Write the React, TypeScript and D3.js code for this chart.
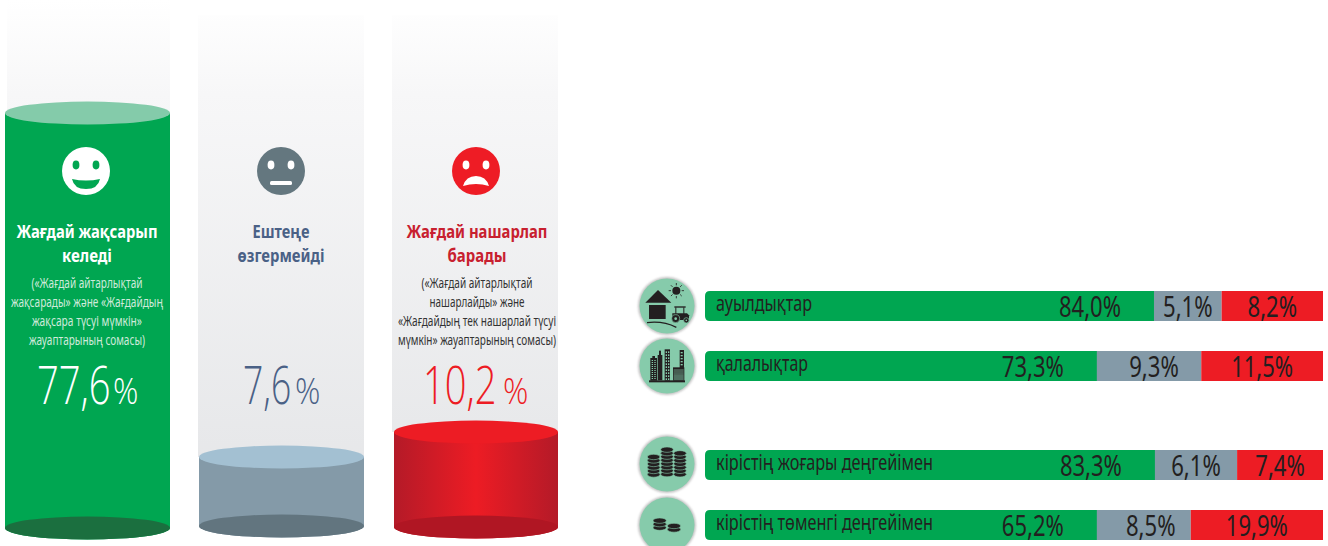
import React from "react";
import * as d3 from "d3";

// ---------- data ----------
const columnKeys = ["better", "same", "worse"];
const columnValues = [77.6, 7.6, 10.2];
const columnValueLabels = ["77,6", "7,6", "10,2"];
const columnTitles = [["Жағдай жақсарып", "келеді"], ["Ештеңе", "өзгермейді"], ["Жағдай нашарлап", "барады"]];
const columnNotes = [
  ["(«Жағдай айтарлықтай", "жақсарады» және «Жағдайдың", "жақсара түсуі мүмкін»", "жауаптарының сомасы)"],
  [],
  ["(«Жағдай айтарлықтай", "нашарлайды» және", "«Жағдайдың тек нашарлай түсуі", "мүмкін» жауаптарының сомасы)"],
];
const rowLabels = ["ауылдықтар", "қалалықтар", "кірістің жоғары деңгейімен", "кірістің төменгі деңгейімен"];
const greenValues = [84.0, 73.3, 83.3, 65.2];
const grayValues = [5.1, 9.3, 6.1, 8.5];
const redValues = [8.2, 11.5, 7.4, 19.9];
// The printed numbers are not proportional to the painted lengths in the source,
// so the painted share of the track (%) is read from the picture separately.
const paintedGreen = [72.65, 63.4, 72.8, 63.4];
const paintedGray = [10.95, 16.9, 13.3, 15.2];
const paintedRed = [16.4, 19.7, 13.9, 21.4];

// ---------- layout ----------
const W = 1328, H = 546;
const GREEN = "#00a651", GRAY = "#849aa8", RED = "#ed1c24", INK = "#231f20", MINT = "#86cbab";
const font = "'Noto Sans', sans-serif";
const lightFont = "'Open Sans', sans-serif";

const colLayout = [
  { x0: 5, x1: 170, glassX0: 7, glassTop: 0, base: 528, top: "#84cbaa", body: GREEN, bottom: "#1b6f3f", titleC: "#ffffff", noteC: "#cfeadb", valC: "#ffffff", faceC: "#ffffff", faceX: 86,
    titleW: [141, 50], noteW: [111, 152, 110, 116], noteX: 87, titleX: 87, valX: 37, valSX: 0.72, pctX: 113 },
  { x0: 199, x1: 364, glassX0: 198, glassTop: 15, base: 526, top: "#a3c0d2", body: GRAY, bottom: "#62757f", titleC: "#4a6186", noteC: "#333", valC: "#4a6186", faceC: "#64777f", faceX: 281,
    titleW: [57, 87], noteW: [], noteX: 281, titleX: 281, valX: 243, valSX: 0.67, pctX: 295 },
  { x0: 394, x1: 558, glassX0: 392, glassTop: 15, base: 527, top: "#ed1c24", body: "url(#redBody)", bottom: "#b01623", titleC: "#c8202f", noteC: "#333333", valC: "#ed1c24", faceC: "#ee1c25", faceX: 476,
    titleW: [141, 59], noteW: [111, 95, 158, 158], noteX: 477, titleX: 477, valX: 423, valSX: 0.72, pctX: 503 },
];
const RY = 11.5;
// piecewise level scale: the source's cylinders are not linear in the value
const levelScale = d3.scaleLinear().domain([0, 7.6, 10.2, 77.6]).range([0, 69, 95, 415]);

const trackX = d3.scaleLinear().domain([0, 100]).range([705, 1323]);
const rowTops = [291, 351, 450, 510];
const rowIconY = [306, 366, 464, 525];
const rowBase = [317, 377, 476, 536];
const rowTextBase = [311, 371, 470, 530];
const rowTextW = [96, 92, 217, 217];
const grayNudge = [0, 5, 0, 7];
const BAR_H = 30;

function Face({ kind, cx, color }: { kind: string; cx: number; color: string }) {
  const cy = 171, r = 24;
  const hole = kind === "better" ? GREEN : "#ffffff";
  let mouth: React.ReactNode;
  if (kind === "better") mouth = <path d={`M${cx - 14},${cy + 8} Q${cx},${cy + 11} ${cx + 14},${cy + 8} Q${cx + 12},${cy + 18} ${cx},${cy + 18} Q${cx - 12},${cy + 18} ${cx - 14},${cy + 8}Z`} fill={hole} />;
  else if (kind === "same") mouth = <rect x={cx - 11} y={cy + 10} width={22} height={4} rx={1.5} fill={hole} />;
  else mouth = <path d={`M${cx - 13},${cy + 15} Q${cx - 10},${cy + 5} ${cx},${cy + 5} Q${cx + 10},${cy + 5} ${cx + 13},${cy + 15} Q${cx},${cy + 11} ${cx - 13},${cy + 15}Z`} fill={hole} />;
  return (
    <g>
      <circle cx={cx} cy={cy} r={r} fill={color} />
      <ellipse cx={cx - 10} cy={cy - 6} rx={3.4} ry={4.4} fill={hole} />
      <ellipse cx={cx + 10} cy={cy - 6} rx={3.4} ry={4.4} fill={hole} />
      {mouth}
    </g>
  );
}

function Column({ i }: { i: number }) {
  const c = colLayout[i];
  const h = levelScale(columnValues[i]);
  const cx = (c.x0 + c.x1) / 2, rx = (c.x1 - c.x0) / 2;
  const topY = c.base - h;
  return (
    <g>
      <rect x={c.glassX0} y={c.glassTop} width={c.x1 - c.glassX0} height={topY - c.glassTop} fill="url(#glass)" />
      <path d={`M${c.x0},${topY} L${c.x0},${c.base} A${rx},${RY} 0 0 0 ${c.x1},${c.base} L${c.x1},${topY}Z`} fill={c.body} />
      <ellipse cx={cx} cy={c.base} rx={rx} ry={RY} fill={c.bottom} />
      <ellipse cx={cx} cy={topY} rx={rx} ry={RY} fill={c.top} />
      <Face kind={columnKeys[i]} cx={c.faceX} color={c.faceC} />
      {columnTitles[i].map((t, k) => (
        <text key={k} x={c.titleX} y={238 + k * 24} textAnchor="middle" fontFamily={font} fontWeight={700} fontSize={18.5} fill={c.titleC}
          textLength={c.titleW[k]} lengthAdjust="spacingAndGlyphs">{t}</text>
      ))}
      {columnNotes[i].map((t, k) => (
        <text key={k} x={c.noteX} y={288 + k * 19} textAnchor="middle" fontFamily={font} fontSize={14.5} fill={c.noteC}
          textLength={c.noteW[k]} lengthAdjust="spacingAndGlyphs">{t}</text>
      ))}
      <text transform={`translate(${c.valX},404) scale(${c.valSX},1)`} fontFamily={lightFont} fontWeight={300} fontSize={53} fill={c.valC}>
        {columnValueLabels[i]}
      </text>
      <text transform={`translate(${c.pctX},404) scale(0.85,1)`} fontFamily={lightFont} fontWeight={300} fontSize={37} fill={c.valC}>%</text>
    </g>
  );
}

function IconFarm() {
  const rays = d3.range(8).map((k) => (k * Math.PI) / 4);
  return (
    <g fill={INK} stroke="none">
      <path d="M47,98 L85,60 L125,98Z" />
      <rect x={58} y={105} width={50} height={42} />
      <path d="M52,158 Q100,152 140,172" fill="none" stroke={INK} strokeWidth={4} />
      <circle cx={140} cy={62} r={12} />
      {rays.map((a, k) => (
        <line key={k} x1={140 + 16 * Math.cos(a)} y1={62 + 16 * Math.sin(a)} x2={140 + 23 * Math.cos(a)} y2={62 + 23 * Math.sin(a)} stroke={INK} strokeWidth={2.5} />
      ))}
      <rect x={134} y={109} width={34} height={4} />
      <rect x={137} y={112} width={3} height={20} />
      <rect x={161} y={112} width={3} height={20} />
      <path d="M128,130 H172 L178,136 V150 H128Z" />
      <circle cx={138} cy={146} r={12} stroke={MINT} strokeWidth={2} />
      <circle cx={138} cy={146} r={4} fill={MINT} />
      <circle cx={170} cy={151} r={8} stroke={MINT} strokeWidth={2} />
      <circle cx={170} cy={151} r={2.5} fill={MINT} />
    </g>
  );
}

function IconCity() {
  const winRows = d3.range(0, 10);
  return (
    <g fill={INK}>
      <rect x={58} y={331} width={108} height={6} />
      <rect x={62} y={264} width={20} height={68} />
      <rect x={68} y={258} width={8} height={8} />
      <rect x={84} y={255} width={14} height={76} />
      <rect x={88} y={242} width={6} height={14} />
      <rect x={105} y={238} width={16} height={94} />
      <rect x={130} y={292} width={34} height={40} />
      <rect x={150} y={240} width={13} height={55} />
      {winRows.map((k) => (
        <g key={k}>
          <rect x={66} y={270 + k * 6} width={4} height={3} fill={MINT} />
          <rect x={74} y={270 + k * 6} width={4} height={3} fill={MINT} />
          <rect x={108} y={244 + k * 9} width={4} height={5} fill={MINT} />
          <rect x={115} y={244 + k * 9} width={4} height={5} fill={MINT} />
          <rect x={132} y={299 + k * 3.2} width={30} height={1.4} fill={MINT} />
        </g>
      ))}
      {d3.range(0, 5).map((k) => (
        <rect key={k} x={153} y={246 + k * 9} width={6} height={4} fill={MINT} />
      ))}
    </g>
  );
}

function Coins({ stacks }: { stacks: { x: number; top: number; n: number; rx: number }[] }) {
  return (
    <g>
      {stacks.map((s, si) =>
        d3.range(s.n - 1, -1, -1).map((k) => (
          <ellipse key={si + "-" + k} cx={s.x} cy={s.top + k * 10.5} rx={s.rx} ry={8} fill={INK} stroke={MINT} strokeWidth={1.8} />
        ))
      )}
    </g>
  );
}

const iconOrigin = [[112, 108], [112, 288], [112, 103], [112, 285]];
function RowIcon({ i }: { i: number }) {
  const cy = rowIconY[i], cx = 667;
  const [ox, oy] = iconOrigin[i];
  return (
    <g>
      <circle cx={cx} cy={cy} r={29} fill="#8a8a8a" opacity={0.5} filter="url(#soft)" />
      <circle cx={cx} cy={cy} r={27.5} fill={MINT} />
      <g transform={`translate(${cx - ox / 3},${cy - oy / 3}) scale(${1 / 3})`}>
        {i === 0 && <IconFarm />}
        {i === 1 && <IconCity />}
        {i === 2 && <Coins stacks={[
          { x: 112, top: 60, n: 8, rx: 19 },
          { x: 72, top: 82, n: 6, rx: 19 },
          { x: 151, top: 71, n: 7, rx: 19 },
        ]} />}
        {i === 3 && <Coins stacks={[
          { x: 90, top: 272, n: 3, rx: 20 },
          { x: 133, top: 288, n: 2, rx: 20 },
        ]} />}
      </g>
    </g>
  );
}

function Row({ i }: { i: number }) {
  const y = rowTops[i];
  const x0 = trackX(0);
  const g1 = trackX(paintedGreen[i]);
  const g2 = trackX(paintedGreen[i] + paintedGray[i]);
  const r2 = trackX(paintedGreen[i] + paintedGray[i] + paintedRed[i]);
  const fmt = (v: number) => d3.format(".1f")(v).replace(".", ",") + "%";
  const val = (s: string, xMid: number) => (
    <text x={xMid} y={rowBase[i]} textAnchor="middle" fontFamily={font} fontSize={29} fill={INK}
      textLength={s.length * 12.4} lengthAdjust="spacingAndGlyphs">{s}</text>
  );
  const s1 = fmt(greenValues[i]), s2 = fmt(grayValues[i]), s3 = fmt(redValues[i]);
  return (
    <g>
      <rect x={g1 - 1} y={y} width={g2 - g1 + 1} height={BAR_H} fill={GRAY} />
      <rect x={g2} y={y} width={r2 - g2} height={BAR_H} fill={RED} />
      <path d={`M${x0 + 5},${y} H${g1} V${y + BAR_H} H${x0 + 5} Q${x0},${y + BAR_H} ${x0},${y + BAR_H - 5} V${y + 5} Q${x0},${y} ${x0 + 5},${y}Z`} fill={GREEN} />
      <text x={716} y={rowTextBase[i]} fontFamily={font} fontSize={21} fill={INK}
        textLength={rowTextW[i]} lengthAdjust="spacingAndGlyphs">{rowLabels[i]}</text>
      {val(s1, g1 - 33 - (s1.length * 12.4) / 2)}
      {val(s2, (g1 + g2) / 2 + grayNudge[i])}
      {val(s3, (g2 + r2) / 2)}
    </g>
  );
}

export default function App() {
  return (
    <svg width={W} height={H} viewBox={`0 0 ${W} ${H}`} style={{ position: "fixed", left: 0, top: 0, display: "block", background: "#fff" }}>
      <defs>
        <linearGradient id="glass" gradientUnits="userSpaceOnUse" x1={0} y1={0} x2={0} y2={470}>
          <stop offset="0" stopColor="#ffffff" />
          <stop offset="0.2" stopColor="#f7f7f8" />
          <stop offset="1" stopColor="#e6e7e9" />
        </linearGradient>
        <linearGradient id="redBody" x1="0" x2="1" y1="0" y2="0">
          <stop offset="0" stopColor="#b41a28" />
          <stop offset="0.5" stopColor="#ed1c24" />
          <stop offset="1" stopColor="#b41a28" />
        </linearGradient>
        <filter id="soft" x="-20%" y="-20%" width="140%" height="140%">
          <feGaussianBlur stdDeviation="1.2" />
        </filter>
      </defs>
      {columnKeys.map((_, i) => <Column key={i} i={i} />)}
      {rowLabels.map((_, i) => <RowIcon key={"ic" + i} i={i} />)}
      {rowLabels.map((_, i) => <Row key={"r" + i} i={i} />)}
    </svg>
  );
}
